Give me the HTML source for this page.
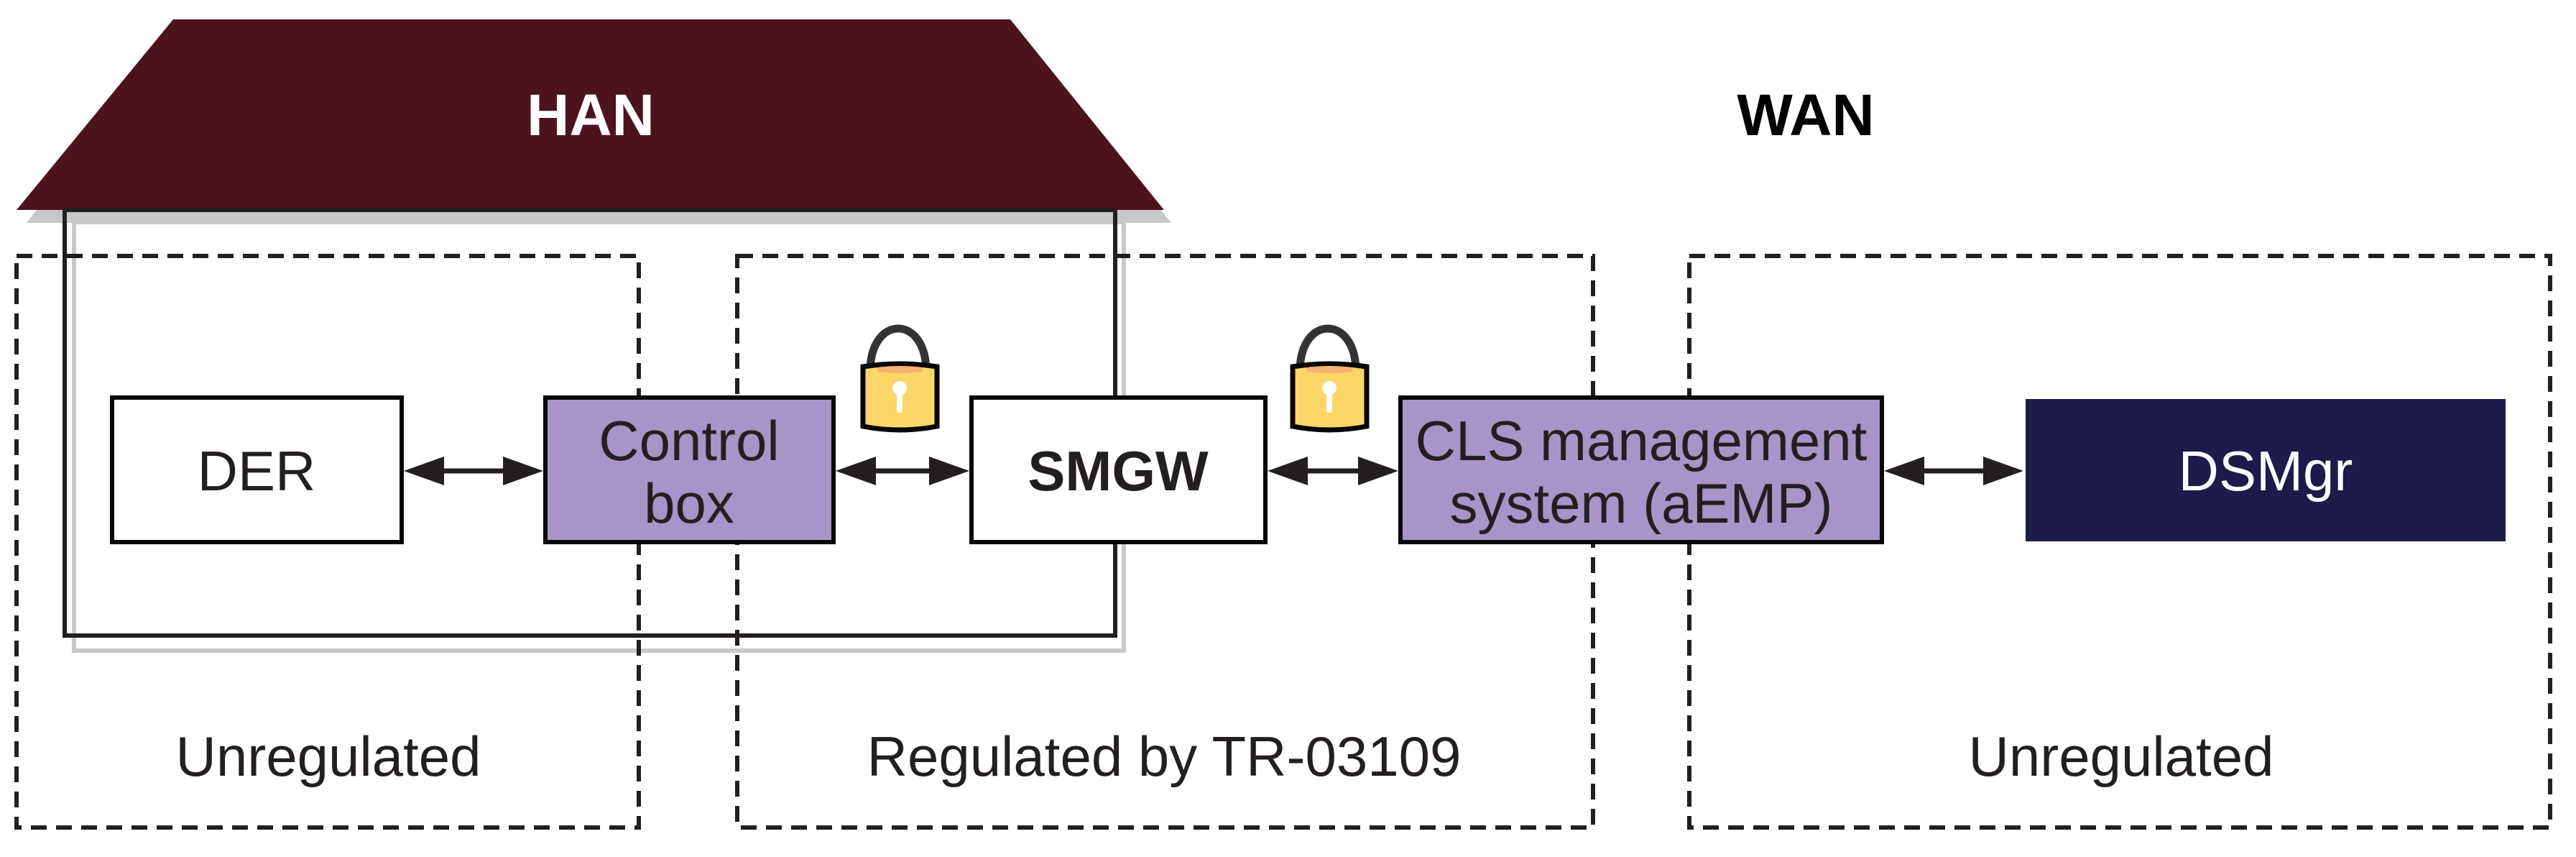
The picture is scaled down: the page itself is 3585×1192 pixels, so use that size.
<!DOCTYPE html>
<html><head><meta charset="utf-8"><style>
html,body{margin:0;padding:0;background:#fff;}
svg{display:block;}
text{font-family:"Liberation Sans",Arial,sans-serif;}
</style></head><body>
<svg width="3585" height="1192" viewBox="0 0 3585 1192" xmlns="http://www.w3.org/2000/svg">
<defs>
<g id="lock">
  <path d="M10,70 C10,-10 88,-10 88,70" fill="none" stroke="#333" stroke-width="11"/>
  <path d="M0,63 Q51,55 103,63 L103,146 Q51,156 0,146 Z" fill="#fcd667" stroke="#060606" stroke-width="7"/>
  <path d="M20,64 Q51,60 83,64 L83,70 Q51,74 20,70 Z" fill="#f7b26e"/>
  <circle cx="51" cy="93" r="10" fill="#fff"/>
  <rect x="47" y="95" width="8" height="32" rx="3" fill="#fff"/>
</g>
</defs>
<polygon points="248,35 1412,35 1630,310 37,310" fill="#c8c8ca"/>
<polygon points="241,27 1406,27 1620,292 23,292" fill="#4c131f"/>
<text x="822" y="188" font-size="82" font-weight="bold" fill="#fff" text-anchor="middle">HAN</text>
<text x="2513" y="188" font-size="82" font-weight="bold" fill="#000" text-anchor="middle">WAN</text>
<rect x="103" y="309" width="1461" height="596" fill="none" stroke="#c8c8ca" stroke-width="6"/>
<rect x="90" y="292" width="1462" height="592" fill="none" stroke="#231f20" stroke-width="6"/>
<g fill="none" stroke="#231f20" stroke-width="6" stroke-dasharray="22,13">
<rect x="23" y="356" width="866" height="795"/>
<rect x="1026" y="356" width="1191" height="795"/>
<rect x="2351" y="356" width="1198" height="795"/>
</g>
<g stroke="#060606" stroke-width="6">
<rect x="156" y="553" width="403" height="201" fill="#fff"/>
<rect x="759" y="553" width="401" height="201" fill="#a794c8"/>
<rect x="1352" y="553" width="409" height="201" fill="#fff"/>
<rect x="1949" y="553" width="670" height="201" fill="#a794c8"/>
</g>
<rect x="2819" y="555" width="668" height="198" fill="#1c1b4a"/>
<g stroke="#231f20" stroke-width="7">
<line x1="600" y1="655" x2="720" y2="655"/>
<line x1="1200" y1="655" x2="1310" y2="655"/>
<line x1="1800" y1="655" x2="1910" y2="655"/>
<line x1="2660" y1="655" x2="2780" y2="655"/>
</g>
<g fill="#231f20">
<polygon points="562,655 618,635 618,675"/><polygon points="756,655 700,635 700,675"/>
<polygon points="1163,655 1219,635 1219,675"/><polygon points="1349,655 1293,635 1293,675"/>
<polygon points="1764,655 1820,635 1820,675"/><polygon points="1946,655 1890,635 1890,675"/>
<polygon points="2622,655 2678,635 2678,675"/><polygon points="2816,655 2760,635 2760,675"/>
</g>
<use href="#lock" x="1201" y="447"/>
<use href="#lock" x="1799" y="447"/>
<g font-size="78" fill="#231f20" text-anchor="middle">
<text x="357" y="682">DER</text>
<text x="959" y="640">Control</text>
<text x="959" y="727">box</text>
<text x="1556" y="682" font-weight="bold">SMGW</text>
<text x="2284" y="640">CLS management</text>
<text x="2284" y="727">system (aEMP)</text>
<text x="3153" y="682" fill="#fff">DSMgr</text>
<text x="457" y="1079">Unregulated</text>
<text x="1620" y="1079">Regulated by TR-03109</text>
<text x="2952" y="1079">Unregulated</text>
</g>
</svg>
</body></html>
